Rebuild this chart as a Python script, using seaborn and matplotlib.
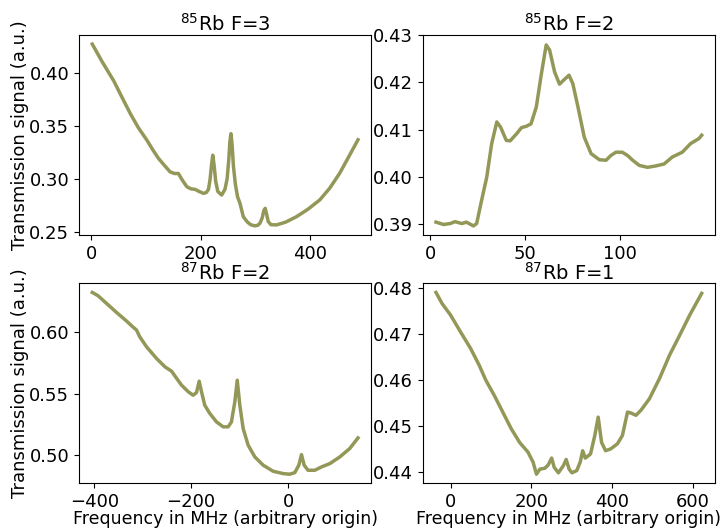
import matplotlib
matplotlib.use("Agg")
import matplotlib.pyplot as plt
import matplotlib.ticker as mticker
import seaborn as sns
import pandas as pd

# ---- data ----
titles = [r"$^{85}$Rb F=3", r"$^{85}$Rb F=2", r"$^{87}$Rb F=2", r"$^{87}$Rb F=1"]

rb85_f3_x = [2, 20, 41, 56, 71.5, 86, 101.8, 113, 123, 134, 144, 152, 159, 166, 174.5, 182, 189.6,
             197, 204.8, 210, 214, 217, 219.5, 221.8, 224.5, 227, 231, 238, 244, 248, 251, 253,
             255, 257, 259.5, 263, 267, 271.5, 277.5, 285, 291, 298.7, 304, 308, 312, 315, 317.5,
             320, 323, 328, 338, 355, 374.5, 395, 417, 435, 453, 471, 486.7]
rb85_f3_y = [0.4277, 0.4110, 0.3930, 0.3775, 0.3617, 0.3485, 0.3365, 0.3270, 0.3192, 0.3125, 0.3066,
             0.3050, 0.3051, 0.2990, 0.2925, 0.2905, 0.2900, 0.2880, 0.2862, 0.2870, 0.2900, 0.3000,
             0.3130, 0.3224, 0.3120, 0.2980, 0.2880, 0.2846, 0.2900, 0.3000, 0.3180, 0.3350, 0.3428,
             0.3330, 0.3120, 0.2950, 0.2830, 0.2767, 0.2641, 0.2590, 0.2565, 0.2554, 0.2560, 0.2580,
             0.2630, 0.2700, 0.2720, 0.2665, 0.2595, 0.2565, 0.2563, 0.2590, 0.2641, 0.2710, 0.2800,
             0.2910, 0.3050, 0.3220, 0.3370]

rb85_f2_x = [3, 7, 10.5, 13, 16.6, 19, 22.7, 24.4, 27, 29.7, 32.3, 35, 37, 40, 42, 45.4, 48, 50.6,
             53, 55.8, 58.5, 61, 62.8, 65.4, 68, 70.3, 73, 75, 77.7, 81, 84.6, 89, 92.5, 95,
             97.7, 101, 103.8, 106.5, 110, 114.3, 118.7, 123, 127.4, 132.6, 136.9, 141.4, 142.8]
rb85_f2_y = [0.3904, 0.3899, 0.3901, 0.3905, 0.3901, 0.3904, 0.3896, 0.3901, 0.3950, 0.3999, 0.4070,
             0.4116, 0.4105, 0.4077, 0.4076, 0.4091, 0.4104, 0.4107, 0.4112, 0.4148, 0.4219, 0.4279,
             0.4268, 0.4222, 0.4196, 0.4205, 0.4215, 0.4197, 0.4148, 0.4084, 0.4049, 0.4036, 0.4035,
             0.4045, 0.4052, 0.4052, 0.4045, 0.4035, 0.4024, 0.4020, 0.4023, 0.4027, 0.4042, 0.4052,
             0.4070, 0.4081, 0.4088]

rb87_f2_x = [-404, -392, -374.6, -354, -333, -323, -312.7, -306, -292, -271.5, -254, -240.5, -233.7,
             -220, -206, -196, -189, -183.5, -178.7, -172, -161.5, -147.8, -134, -123.7, -117,
             -110, -105, -99.7, -92.8, -82.5, -68.7, -51.5, -31, -10.3, 3.4, 13.7, 22, 27.5, 33,
             41, 55, 68.7, 86, 106.5, 127, 144]
rb87_f2_y = [0.6319, 0.6292, 0.6230, 0.6157, 0.6086, 0.6049, 0.6014, 0.5959, 0.5878, 0.5784, 0.5716,
             0.5681, 0.5643, 0.5568, 0.5514, 0.5486, 0.5508, 0.5600, 0.5514, 0.5405, 0.5338, 0.5270,
             0.5230, 0.5230, 0.5270, 0.5432, 0.5608, 0.5405, 0.5216, 0.5081, 0.4986, 0.4919, 0.4870,
             0.4851, 0.4846, 0.4859, 0.4919, 0.5005, 0.4919, 0.4878, 0.4878, 0.4905, 0.4932, 0.4986,
             0.5054, 0.5140]

rb87_f1_x = [-36, -21, 0, 25, 50, 71, 87.7, 108.6, 129.5, 150.4, 171.3, 192, 204.7, 213, 221.5, 234,
             242, 250.7, 257, 267.4, 280, 286.6, 294, 301, 313, 321.7, 327.6, 334, 347, 357.6, 366,
             374.4, 384.4, 397, 413.6, 426, 438.7, 447, 459.6, 472, 493, 518, 543, 568, 593, 622.5]
rb87_f1_y = [0.4791, 0.4767, 0.4742, 0.4705, 0.4669, 0.4633, 0.4600, 0.4567, 0.4531, 0.4495, 0.4465,
             0.4444, 0.4422, 0.4396, 0.4407, 0.4409, 0.4416, 0.4431, 0.4411, 0.4399, 0.4415, 0.4428,
             0.4407, 0.4399, 0.4404, 0.4423, 0.4447, 0.4431, 0.4440, 0.4480, 0.4520, 0.4465, 0.4447,
             0.4451, 0.4462, 0.4480, 0.4531, 0.4529, 0.4524, 0.4535, 0.4560, 0.4604, 0.4655, 0.4698,
             0.4742, 0.4789]

xticks = [[0, 200, 400], [0, 50, 100], [-400, -200, 0], [0, 200, 400, 600]]
yticks = [[0.25, 0.30, 0.35, 0.40], [0.39, 0.40, 0.41, 0.42, 0.43],
          [0.50, 0.55, 0.60], [0.44, 0.45, 0.46, 0.47, 0.48]]

series = [(rb85_f3_x, rb85_f3_y), (rb85_f2_x, rb85_f2_y),
          (rb87_f2_x, rb87_f2_y), (rb87_f1_x, rb87_f1_y)]

line_color = "#939858"

fig, axes = plt.subplots(2, 2, figsize=(7.26, 5.29), dpi=100)
fig.subplots_adjust(left=0.1088, right=0.9848, top=0.9338, bottom=0.0864,
                    wspace=0.176, hspace=0.242)

for i, ax in enumerate(axes.flat):
    x, y = series[i]
    df = pd.DataFrame({"x": x, "y": y})
    sns.lineplot(data=df, x="x", y="y", ax=ax, color=line_color, linewidth=2.5,
                 sort=False, estimator=None)
    ax.set_title(titles[i], fontsize=14, pad=-2.5)
    ax.set_xticks(xticks[i])
    ax.set_yticks(yticks[i])
    ax.yaxis.set_major_formatter(mticker.FormatStrFormatter("%.2f"))
    ax.tick_params(labelsize=13)
    ax.set_xlabel("")
    ax.set_ylabel("")
    if i % 2 == 0:
        ax.set_ylabel("Transmission signal (a.u.)", fontsize=13, labelpad=0)
    if i >= 2:
        ax.set_xlabel("Frequency in MHz (arbitrary origin)", fontsize=12.5, labelpad=-1)

fig.savefig("out.png", dpi=100)
